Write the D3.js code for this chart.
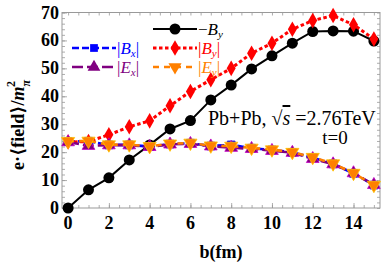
<!DOCTYPE html>
<html>
<head>
<meta charset="utf-8">
<script src="https://cdn.jsdelivr.net/npm/d3@7"></script>
<style>
  body { margin: 0; background: #fff; }
  text { font-family: "Liberation Serif", "DejaVu Serif", serif; }
</style>
</head>
<body>
<svg width="382" height="262"></svg>
<script>
const bValues = [0, 1, 2, 3, 4, 5, 6, 7, 8, 9, 10, 11, 12, 13, 14, 15];
const negBy = [0, 6.5, 10.8, 17.2, 22.6, 28.3, 31.3, 38.7, 44, 49.8, 54.5, 59, 63.2, 63.4, 63.3, 59.8];
const absBy = [23.6, 23.8, 26.2, 29.1, 31.2, 36.6, 41.7, 45.9, 50, 55.4, 59, 64, 67.1, 68.9, 65.6, 60.5];
const absBx = [23.8, 23.9, 22.6, 22.6, 22.0, 22.9, 23.2, 22.2, 22.6, 21.4, 20.8, 19.9, 18.0, 15.8, 12.4, 8.2];
const absEx = [23.6, 22.3, 22.5, 22.5, 21.9, 22.8, 23.0, 22.1, 21.6, 21.2, 20.5, 19.8, 17.6, 15.7, 12.5, 8.3];
const absEy = [23.9, 24.0, 22.7, 22.7, 22.1, 23.0, 23.3, 22.3, 22.2, 21.5, 20.9, 20.0, 18.2, 15.9, 12.5, 8.2];
const xTicks = [0, 2, 4, 6, 8, 10, 12, 14];
const yTicks = [0, 10, 20, 30, 40, 50, 60, 70];

const svg = d3.select("svg");
const plotL = 62, plotR = 380, plotT = 12.5, plotB = 208;

const x = d3.scaleLinear().domain([-0.3, 15.3]).range([plotL, plotR]);
const y = d3.scaleLinear().domain([0, 70]).range([plotB, plotT]);

// frame with inward ticks
const frameColor = "#999";
const g = svg.append("g");

const xMinor = d3.range(0, 15.01, 0.5);
const yMinor = d3.range(0, 70.01, 2);
g.append("g").attr("transform", `translate(0,${plotB})`)
  .call(d3.axisBottom(x).tickValues(xMinor).tickSize(-3).tickFormat(""));
g.append("g").attr("transform", `translate(0,${plotT})`)
  .call(d3.axisTop(x).tickValues(xMinor).tickSize(-3).tickFormat(""));
g.append("g").attr("transform", `translate(${plotL},0)`)
  .call(d3.axisLeft(y).tickValues(yMinor).tickSize(-3).tickFormat(""));
g.append("g").attr("transform", `translate(${plotR},0)`)
  .call(d3.axisRight(y).tickValues(yMinor).tickSize(-3).tickFormat(""));

// major ticks
g.append("g").attr("transform", `translate(0,${plotB})`)
  .call(d3.axisBottom(x).tickValues(xTicks).tickSize(-5).tickFormat(""));
g.append("g").attr("transform", `translate(${plotL},0)`)
  .call(d3.axisLeft(y).tickValues(yTicks).tickSize(-5).tickFormat(""));
g.selectAll(".domain").remove();
g.selectAll(".tick line").attr("stroke", frameColor).attr("stroke-width", 0.8);

svg.append("rect")
  .attr("x", plotL).attr("y", plotT)
  .attr("width", plotR - plotL).attr("height", plotB - plotT)
  .attr("fill", "none").attr("stroke", frameColor).attr("stroke-width", 1);

// tick labels
svg.append("g").selectAll("text").data(xTicks).join("text")
  .attr("x", d => x(d)).attr("y", 229)
  .attr("text-anchor", "middle")
  .attr("font-size", 18).attr("font-weight", "bold")
  .text(d => d);

svg.append("g").selectAll("text").data(yTicks).join("text")
  .attr("x", 59).attr("y", d => y(d) + 6)
  .attr("text-anchor", "end")
  .attr("font-size", 18).attr("font-weight", "bold")
  .text(d => d);

// axis titles
svg.append("text")
  .attr("x", 221).attr("y", 258)
  .attr("text-anchor", "middle")
  .attr("font-size", 18).attr("font-weight", "bold")
  .text("b(fm)");

const yl = svg.append("text")
  .attr("transform", "translate(24,125) rotate(-90)")
  .attr("text-anchor", "middle")
  .attr("font-size", 18).attr("font-weight", "bold");
yl.append("tspan").text("e·⟨field⟩/");
yl.append("tspan").attr("font-style", "italic").text("m");
yl.append("tspan").attr("font-style", "italic").attr("font-size", 12).attr("dy", 6).text("π");
yl.append("tspan").attr("font-size", 12).attr("dx", -7).attr("dy", -15).text("2");

// series
const series = [
  { name: "negBy", values: negBy, color: "#000", dash: null, width: 2, marker: "circle" },
  { name: "absBx", values: absBx, color: "#0000ff", dash: "7,3", width: 2.6, marker: "square" },
  { name: "absBy", values: absBy, color: "#ff0000", dash: "3.5,2.5", width: 3, marker: "diamond" },
  { name: "absEx", values: absEx, color: "#800080", dash: "11,4", width: 2.6, marker: "triangle" },
  { name: "absEy", values: absEy, color: "#ff8000", dash: "6,5", width: 2.6, marker: "triangleDown" }
];

const symbolFor = {
  circle: d3.symbol().type(d3.symbolCircle).size(95),
  square: d3.symbol().type(d3.symbolSquare).size(60),
  diamond: d3.symbol().type(d3.symbolDiamond).size(70),
  triangle: d3.symbol().type(d3.symbolTriangle).size(70),
  triangleDown: d3.symbol().type(d3.symbolTriangle).size(75)
};

const line = d3.line().x((d, i) => x(bValues[i])).y(d => y(d));

series.forEach(s => {
  svg.append("path")
    .attr("d", line(s.values))
    .attr("fill", "none")
    .attr("stroke", s.color)
    .attr("stroke-width", s.width)
    .attr("stroke-dasharray", s.dash);
  svg.append("g").selectAll("path").data(s.values).join("path")
    .attr("d", symbolFor[s.marker]())
    .attr("transform", (d, i) => `translate(${x(bValues[i])},${y(d)})` + (s.marker === "triangleDown" ? " rotate(180)" : ""))
    .attr("fill", s.color)
    .attr("stroke", s.marker === "circle" || s.marker === "diamond" ? "none" : d3.color(s.color).brighter(1.2))
    .attr("stroke-width", 0.8);
});

// legend
const legendItems = [
  { s: series[0], x0: 153, y0: 29, label: ["−", "B", "y", ""] },
  { s: series[1], x0: 72, y0: 48, label: ["|", "B", "x", "|"] },
  { s: series[2], x0: 153, y0: 48, label: ["|", "B", "y", "|"] },
  { s: series[3], x0: 72, y0: 67, label: ["|", "E", "x", "|"] },
  { s: series[4], x0: 153, y0: 67, label: ["|", "E", "y", "|"] }
];

legendItems.forEach(item => {
  const s = item.s;
  svg.append("line")
    .attr("x1", item.x0).attr("x2", item.x0 + 44)
    .attr("y1", item.y0).attr("y2", item.y0)
    .attr("stroke", s.color).attr("stroke-width", s.width)
    .attr("stroke-dasharray", s.dash);
  svg.append("path")
    .attr("d", symbolFor[s.marker]())
    .attr("transform", `translate(${item.x0 + 22},${item.y0})` + (s.marker === "triangleDown" ? " rotate(180)" : ""))
    .attr("fill", s.color);
  const t = svg.append("text")
    .attr("x", item.x0 + 45).attr("y", item.y0 + 6)
    .attr("font-size", 17)
    .attr("fill", s.color);
  t.append("tspan").text(item.label[0]);
  t.append("tspan").attr("font-style", "italic").text(item.label[1]);
  t.append("tspan").attr("font-style", "italic").attr("font-size", 11).attr("dy", 3).text(item.label[2]);
  t.append("tspan").attr("dy", -3).text(item.label[3]);
});

// annotation
const ann = svg.append("text")
  .attr("x", 208).attr("y", 125)
  .attr("font-size", 20);
ann.append("tspan").text("Pb+Pb, √");
ann.append("tspan").attr("font-style", "italic").attr("text-decoration", "overline").text("s");
ann.append("tspan").text(" =2.76TeV");

svg.append("text")
  .attr("x", 335).attr("y", 144)
  .attr("text-anchor", "middle")
  .attr("font-size", 19)
  .text("t=0");
</script>
</body>
</html>
